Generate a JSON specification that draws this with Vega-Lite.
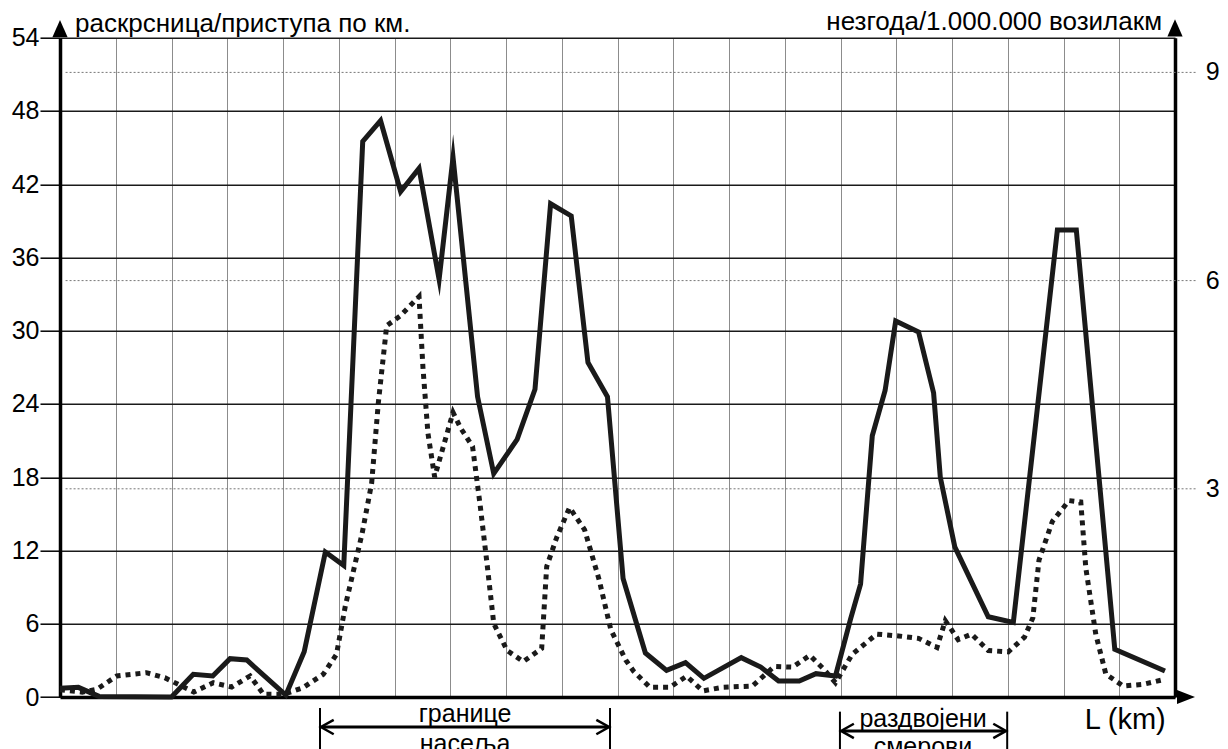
{
  "$schema": "https://vega.github.io/schema/vega-lite/v6.json",
  "width": 1115,
  "height": 659.3,
  "autosize": "none",
  "padding": {"left": 60, "top": 37.7, "right": 53, "bottom": 52},
  "background": "white",
  "config": {"view": {"stroke": null}, "text": {"font": "Liberation Sans", "color": "#000"}},
  "resolve": {"scale": {"y": "independent"}, "axis": {"y": "independent"}},
  "layer": [
    {
      "data": {"values": [{"value": 3}, {"value": 6}, {"value": 9}]},
      "mark": {"type": "rule", "color": "#777", "strokeWidth": 1, "strokeDash": [2, 2]},
      "encoding": {
        "x": {"datum": 0.1, "type": "quantitative"},
        "x2": {"datum": 20.4},
        "y": {"field": "value", "type": "quantitative", "scale": {"domain": [0, 9.5], "nice": false, "zero": false}, "axis": null}
      }
    },
    {
      "data": {"values": [{"value": 3, "label": "3"}, {"value": 6, "label": "6"}, {"value": 9, "label": "9"}]},
      "mark": {"type": "text", "align": "left", "baseline": "middle", "fontSize": 25, "font": "Liberation Sans", "color": "#000"},
      "encoding": {
        "x": {"datum": 20.55, "type": "quantitative"},
        "y": {"field": "value", "type": "quantitative", "scale": {"domain": [0, 9.5], "nice": false, "zero": false}, "axis": null},
        "text": {"field": "label"}
      }
    },
    {
      "data": {"values": [
        {"km": 0, "value": 0.71}, {"km": 0.33, "value": 0.79}, {"km": 0.7, "value": 0.05}, {"km": 2.0, "value": 0.0},
        {"km": 2.39, "value": 1.86}, {"km": 2.74, "value": 1.72}, {"km": 3.05, "value": 3.14}, {"km": 3.35, "value": 3.03},
        {"km": 4.05, "value": 0.15}, {"km": 4.38, "value": 3.7}, {"km": 4.76, "value": 11.87}, {"km": 5.09, "value": 10.77},
        {"km": 5.43, "value": 45.5}, {"km": 5.75, "value": 47.2}, {"km": 6.11, "value": 41.4}, {"km": 6.44, "value": 43.3},
        {"km": 6.8, "value": 34.2}, {"km": 7.05, "value": 44.2}, {"km": 7.49, "value": 24.6}, {"km": 7.78, "value": 18.3},
        {"km": 8.2, "value": 21.1}, {"km": 8.52, "value": 25.2}, {"km": 8.8, "value": 40.4}, {"km": 9.17, "value": 39.4},
        {"km": 9.47, "value": 27.4}, {"km": 9.82, "value": 24.6}, {"km": 10.1, "value": 9.7}, {"km": 10.5, "value": 3.6},
        {"km": 10.88, "value": 2.18}, {"km": 11.22, "value": 2.81}, {"km": 11.55, "value": 1.53}, {"km": 12.22, "value": 3.22},
        {"km": 12.57, "value": 2.45}, {"km": 12.89, "value": 1.31}, {"km": 13.26, "value": 1.31}, {"km": 13.56, "value": 1.91},
        {"km": 13.91, "value": 1.72}, {"km": 14.18, "value": 6.38}, {"km": 14.36, "value": 9.25}, {"km": 14.57, "value": 21.4},
        {"km": 14.8, "value": 25.1}, {"km": 14.99, "value": 30.8}, {"km": 15.4, "value": 29.9}, {"km": 15.67, "value": 24.9},
        {"km": 15.79, "value": 18.0}, {"km": 16.05, "value": 12.3}, {"km": 16.65, "value": 6.57}, {"km": 17.1, "value": 6.1},
        {"km": 17.89, "value": 38.25}, {"km": 18.23, "value": 38.25}, {"km": 18.92, "value": 3.9}, {"km": 19.82, "value": 2.13}
      ]},
      "mark": {"type": "line", "color": "#1a1a1a", "strokeWidth": 5, "strokeJoin": "miter", "strokeMiterLimit": 10},
      "encoding": {
        "x": {"field": "km", "type": "quantitative",
          "scale": {"domain": [0, 20], "nice": false, "zero": false},
          "axis": {"values": [0,1,2,3,4,5,6,7,8,9,10,11,12,13,14,15,16,17,18,19,20], "grid": true, "gridColor": "#8c8c8c", "gridWidth": 1,
            "labels": false, "ticks": false, "domain": true, "domainColor": "#000", "domainWidth": 3.5, "title": null}},
        "y": {"field": "value", "type": "quantitative",
          "scale": {"domain": [0, 54], "nice": false, "zero": false},
          "axis": {"orient": "left", "values": [0,6,12,18,24,30,36,42,48,54], "grid": true, "gridColor": "#1a1a1a", "gridWidth": 1.5,
            "domainColor": "#000", "domainWidth": 3.5, "ticks": true, "tickColor": "#000", "tickWidth": 1.5, "tickSize": 20,
            "labelFontSize": 25, "labelFont": "Liberation Sans", "labelColor": "#000", "labelPadding": 1, "title": null}}
      }
    },
    {
      "data": {"values": [
        {"km": 0, "value": 0.106}, {"km": 0.4, "value": 0.07}, {"km": 0.66, "value": 0.111}, {"km": 1.02, "value": 0.303},
        {"km": 1.55, "value": 0.35}, {"km": 1.88, "value": 0.278}, {"km": 2.18, "value": 0.158}, {"km": 2.4, "value": 0.072},
        {"km": 2.75, "value": 0.206}, {"km": 3.08, "value": 0.144}, {"km": 3.41, "value": 0.303}, {"km": 3.65, "value": 0.039},
        {"km": 4.01, "value": 0.039}, {"km": 4.36, "value": 0.134}, {"km": 4.72, "value": 0.325}, {"km": 4.96, "value": 0.616},
        {"km": 5.12, "value": 1.32}, {"km": 5.42, "value": 2.36}, {"km": 5.59, "value": 3.08}, {"km": 5.71, "value": 4.24},
        {"km": 5.86, "value": 5.35}, {"km": 6.1, "value": 5.49}, {"km": 6.44, "value": 5.77}, {"km": 6.51, "value": 4.75},
        {"km": 6.6, "value": 3.8}, {"km": 6.72, "value": 3.17}, {"km": 7.05, "value": 4.1}, {"km": 7.19, "value": 3.87},
        {"km": 7.4, "value": 3.61}, {"km": 7.54, "value": 2.74}, {"km": 7.66, "value": 1.92}, {"km": 7.78, "value": 1.06},
        {"km": 8.02, "value": 0.67}, {"km": 8.31, "value": 0.51}, {"km": 8.64, "value": 0.7}, {"km": 8.73, "value": 1.88},
        {"km": 8.91, "value": 2.3}, {"km": 9.14, "value": 2.73}, {"km": 9.41, "value": 2.41}, {"km": 9.67, "value": 1.69},
        {"km": 9.88, "value": 0.97}, {"km": 10.15, "value": 0.53}, {"km": 10.29, "value": 0.37}, {"km": 10.58, "value": 0.14},
        {"km": 10.94, "value": 0.14}, {"km": 11.24, "value": 0.3}, {"km": 11.53, "value": 0.088}, {"km": 11.89, "value": 0.14},
        {"km": 12.42, "value": 0.158}, {"km": 12.81, "value": 0.44}, {"km": 13.14, "value": 0.43}, {"km": 13.45, "value": 0.6},
        {"km": 13.7, "value": 0.4}, {"km": 13.91, "value": 0.206}, {"km": 14.21, "value": 0.616}, {"km": 14.65, "value": 0.906},
        {"km": 15.04, "value": 0.88}, {"km": 15.4, "value": 0.845}, {"km": 15.73, "value": 0.713}, {"km": 15.88, "value": 1.1},
        {"km": 16.11, "value": 0.827}, {"km": 16.35, "value": 0.906}, {"km": 16.65, "value": 0.669}, {"km": 17.01, "value": 0.651},
        {"km": 17.3, "value": 0.862}, {"km": 17.45, "value": 1.14}, {"km": 17.56, "value": 1.97}, {"km": 17.8, "value": 2.53},
        {"km": 18.1, "value": 2.83}, {"km": 18.31, "value": 2.81}, {"km": 18.4, "value": 1.86}, {"km": 18.58, "value": 0.9},
        {"km": 18.76, "value": 0.33}, {"km": 19.07, "value": 0.158}, {"km": 19.43, "value": 0.183}, {"km": 19.82, "value": 0.255}
      ]},
      "mark": {"type": "line", "color": "#1a1a1a", "strokeWidth": 5, "strokeDash": [5, 5], "strokeCap": "butt"},
      "encoding": {
        "x": {"field": "km", "type": "quantitative"},
        "y": {"field": "value", "type": "quantitative",
          "scale": {"domain": [0, 9.5], "nice": false, "zero": false},
          "axis": {"orient": "right", "values": [3, 6, 9], "grid": false, "ticks": false, "labels": false,
            "domainColor": "#000", "domainWidth": 3.5, "title": null}}
      }
    },
    {
      "data": {"values": [{"km": 0, "value": 54.75}, {"km": 20, "value": 54.8}]},
      "mark": {"type": "point", "shape": "M1,0L-1,-0.88L-1,0.88Z", "angle": 270, "filled": true, "color": "#000", "size": 300, "opacity": 1},
      "encoding": {
        "x": {"field": "km", "type": "quantitative"},
        "y": {"field": "value", "type": "quantitative", "scale": {"domain": [0, 54], "nice": false, "zero": false}, "axis": null}
      }
    },
    {
      "data": {"values": [{"km": 20.197, "value": 0}]},
      "mark": {"type": "point", "shape": "M1,0L-1,-0.78L-1,0.78Z", "filled": true, "color": "#000", "size": 324, "opacity": 1},
      "encoding": {
        "x": {"field": "km", "type": "quantitative"},
        "y": {"field": "value", "type": "quantitative", "scale": {"domain": [0, 54], "nice": false, "zero": false}, "axis": null}
      }
    },
    {
      "data": {"values": [{"km": 4.664, "top": -0.9, "bottom": -4.4}, {"km": 9.865, "top": -0.9, "bottom": -4.4},
                          {"km": 13.99, "top": -1.2, "bottom": -4.4}, {"km": 16.99, "top": -1.2, "bottom": -4.4}]},
      "mark": {"type": "rule", "color": "#000", "strokeWidth": 2},
      "encoding": {
        "x": {"field": "km", "type": "quantitative"},
        "y": {"field": "top", "type": "quantitative", "scale": {"domain": [0, 54], "nice": false, "zero": false}, "axis": null},
        "y2": {"field": "bottom"}
      }
    },
    {
      "data": {"values": [{"start": 4.7, "end": 9.83, "value": -2.46}, {"start": 14.03, "end": 16.95, "value": -2.78}]},
      "mark": {"type": "rule", "color": "#000", "strokeWidth": 3},
      "encoding": {
        "x": {"field": "start", "type": "quantitative"},
        "x2": {"field": "end"},
        "y": {"field": "value", "type": "quantitative", "scale": {"domain": [0, 54], "nice": false, "zero": false}, "axis": null}
      }
    },
    {
      "data": {"values": [{"km": 4.68, "value": -2.46}, {"km": 14.01, "value": -2.78}]},
      "mark": {"type": "point", "shape": "M1.6,-0.9L0,0L1.6,0.9", "filled": false, "color": "#000", "strokeWidth": 2.5, "size": 256, "opacity": 1},
      "encoding": {
        "x": {"field": "km", "type": "quantitative"},
        "y": {"field": "value", "type": "quantitative", "scale": {"domain": [0, 54], "nice": false, "zero": false}, "axis": null}
      }
    },
    {
      "data": {"values": [{"km": 9.85, "value": -2.46}, {"km": 16.97, "value": -2.78}]},
      "mark": {"type": "point", "shape": "M-1.6,-0.9L0,0L-1.6,0.9", "filled": false, "color": "#000", "strokeWidth": 2.5, "size": 256, "opacity": 1},
      "encoding": {
        "x": {"field": "km", "type": "quantitative"},
        "y": {"field": "value", "type": "quantitative", "scale": {"domain": [0, 54], "nice": false, "zero": false}, "axis": null}
      }
    },
    {
      "data": {"values": [{"km": 0.269, "value": 54.47, "label": "раскрсница/приступа по км."}]},
      "mark": {"type": "text", "align": "left", "baseline": "alphabetic", "fontSize": 26, "font": "Liberation Sans"},
      "encoding": {
        "x": {"field": "km", "type": "quantitative"},
        "y": {"field": "value", "type": "quantitative", "scale": {"domain": [0, 54], "nice": false, "zero": false}, "axis": null},
        "text": {"field": "label"}
      }
    },
    {
      "data": {"values": [{"km": 19.767, "value": 54.67, "label": "незгода/1.000.000 возилакм"}]},
      "mark": {"type": "text", "align": "right", "baseline": "alphabetic", "fontSize": 26, "font": "Liberation Sans"},
      "encoding": {
        "x": {"field": "km", "type": "quantitative"},
        "y": {"field": "value", "type": "quantitative", "scale": {"domain": [0, 54], "nice": false, "zero": false}, "axis": null},
        "text": {"field": "label"}
      }
    },
    {
      "data": {"values": [
        {"km": 7.265, "value": -2.05, "label": "границе"}, {"km": 7.265, "value": -4.5, "label": "насеља"},
        {"km": 15.48, "value": -2.46, "label": "раздвојени"}, {"km": 15.48, "value": -4.75, "label": "смерови"}
      ]},
      "mark": {"type": "text", "align": "center", "baseline": "alphabetic", "fontSize": 25, "font": "Liberation Sans"},
      "encoding": {
        "x": {"field": "km", "type": "quantitative"},
        "y": {"field": "value", "type": "quantitative", "scale": {"domain": [0, 54], "nice": false, "zero": false}, "axis": null},
        "text": {"field": "label"}
      }
    },
    {
      "data": {"values": [{"km": 18.38, "value": -2.63, "label": "L (km)"}]},
      "mark": {"type": "text", "align": "left", "baseline": "alphabetic", "fontSize": 29, "font": "Liberation Sans"},
      "encoding": {
        "x": {"field": "km", "type": "quantitative"},
        "y": {"field": "value", "type": "quantitative", "scale": {"domain": [0, 54], "nice": false, "zero": false}, "axis": null},
        "text": {"field": "label"}
      }
    }
  ]
}
